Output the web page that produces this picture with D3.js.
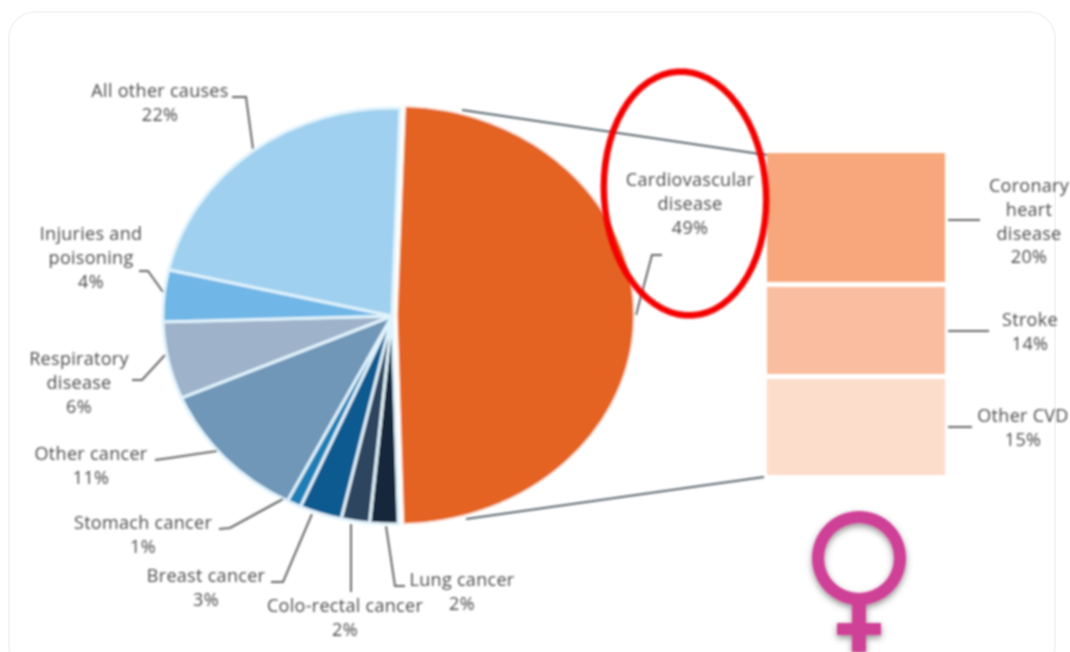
<!DOCTYPE html>
<html>
<head>
<meta charset="utf-8">
<script src="https://cdn.jsdelivr.net/npm/d3@7/dist/d3.min.js"></script>
<style>
html,body{margin:0;padding:0;background:#fff;overflow:hidden}
svg{display:block}
text{font-family:"Open Sans",sans-serif;font-size:18px;letter-spacing:0.3px;fill:#4c4c4c;text-anchor:middle;dominant-baseline:middle}
</style>
</head>
<body>
<svg id="chart" width="1070" height="652"></svg>
<script>
// Pie data: causes of death, share in %
const causes = ["Cardiovascular disease","Lung cancer","Colo-rectal cancer","Breast cancer","Stomach cancer","Other cancer","Respiratory disease","Injuries and poisoning","All other causes"];
const shares = [49,2,2,3,1,11,6,4,22];
const pieColors = ["#e56420","#14263a","#2f4560","#0b5a90","#1b7eb5","#7096b8","#9eb2c9","#6fb6e6","#a0d0ef"];

// Breakdown of cardiovascular disease
const cvdParts = ["Coronary heart disease","Stroke","Other CVD"];
const cvdShares = [20,14,15];
const cvdColors = ["#f8a77c","#fbbda0","#fcdcca"];

// Label text lines
const pieLabels = [
  {lines:["Cardiovascular","disease","49%"],x:690,y:180},
  {lines:["Lung cancer","2%"],x:462,y:580},
  {lines:["Colo-rectal cancer","2%"],x:345,y:606},
  {lines:["Breast cancer","3%"],x:206,y:576},
  {lines:["Stomach cancer","1%"],x:143,y:523},
  {lines:["Other cancer","11%"],x:91,y:454},
  {lines:["Respiratory","disease","6%"],x:79,y:359},
  {lines:["Injuries and","poisoning","4%"],x:91,y:234},
  {lines:["All other causes","22%"],x:160,y:91},
  {lines:["Coronary","heart","disease","20%"],x:1029,y:186},
  {lines:["Stroke","14%"],x:1030,y:320},
  {lines:["Other CVD","15%"],x:1023,y:416}
];
const leaders = [
  [[636,315],[652,255],[662,255]],
  [[386,526],[395,586],[405,586]],
  [[351,524],[351,592]],
  [[312,514],[283,582],[271,582]],
  [[283,499],[230,528],[219,529]],
  [[217,451],[170,458],[155,460]],
  [[165,355],[142,380],[132,380]],
  [[163,292],[148,271],[139,271]],
  [[253,149],[246,97],[232,97]],
  [[948,220],[980,220]],
  [[948,331],[989,331]],
  [[948,427],[972,427]]
];

const svg = d3.select("#chart");
const defs = svg.append("defs");
defs.append("filter").attr("id","soft").append("feGaussianBlur").attr("stdDeviation",0.8);
const shadow = defs.append("filter").attr("id","shadow").attr("x","-30%").attr("y","-30%").attr("width","160%").attr("height","160%");
shadow.append("feDropShadow").attr("dx",0).attr("dy",3).attr("stdDeviation",3).attr("flood-color","#555").attr("flood-opacity",0.65);

// card
svg.append("rect").attr("x",9).attr("y",12).attr("width",1046).attr("height",660).attr("rx",26)
  .attr("fill","#fff").attr("stroke","#f5f5f5").attr("stroke-width",2);

const root = svg.append("g").attr("filter","url(#soft)");

// Pie (elliptical, the orange slice is pulled slightly out of the rest)
const pie = d3.pie().sort(null).value(d=>d).startAngle(2*Math.PI/180).endAngle(362*Math.PI/180);
const arc = d3.arc().innerRadius(0).outerRadius(1);
const geom = i => i===0 ? {cx:397,cy:315,rx:237,ry:209} : {cx:392,cy:316,rx:229,ry:208};
root.append("g").selectAll("path").data(pie(shares)).join("path")
  .attr("transform",(d,i)=>{const g=geom(i);return `translate(${g.cx},${g.cy}) scale(${g.rx},${g.ry})`;})
  .attr("d",arc).attr("fill",(d,i)=>pieColors[i])
  .attr("stroke",(d,i)=>i===0?"#fdeadb":"#e0f3fc")
  .attr("stroke-width",(d,i)=>i===0?1.5:3)
  .attr("vector-effect","non-scaling-stroke");

// Stacked CVD column
const total = d3.sum(cvdShares);
const yS = d3.scaleLinear().domain([0,total]).range([153,475]);
let acc=0;
const stacks = cvdShares.map(v=>{const s={y0:acc,y1:acc+v};acc+=v;return s;});
root.append("g").selectAll("rect").data(stacks).join("rect")
  .attr("x",767).attr("width",178)
  .attr("y",(d,i)=>yS(d.y0)+(i?2.5:0))
  .attr("height",(d,i)=>yS(d.y1)-yS(d.y0)-(i?2.5:0)-(i<2?2.5:0))
  .attr("fill",(d,i)=>cvdColors[i]);

// Connectors between pie and column
root.append("g").attr("stroke","#56646c").attr("stroke-width",2).attr("fill","none")
  .selectAll("path").data([[[462,110],[767,155]],[[466,519],[764,477]]]).join("path")
  .attr("d",d3.line());

// Leaders
root.append("g").attr("stroke","#666").attr("stroke-width",2).attr("fill","none")
  .selectAll("path").data(leaders).join("path").attr("d",d3.line());

// Labels
const lab = root.append("g").selectAll("text").data(pieLabels).join("text")
  .attr("transform",d=>`translate(${d.x},${d.y+1})`);
lab.selectAll("tspan").data(d=>d.lines).join("tspan")
  .attr("x",0).attr("y",(d,i)=>i*23.8).text(d=>d);

// Red highlight ellipse
svg.append("ellipse").attr("cx",685).attr("cy",193.5).attr("rx",81).attr("ry",122)
  .attr("transform","rotate(-3.5 685 193.5)")
  .attr("fill","none").attr("stroke","#f40000").attr("stroke-width",6.5)
  .attr("filter","url(#soft)");

// Female symbol
const sym = root.append("g").attr("filter","url(#shadow)");
const ringPath = d3.path();
ringPath.moveTo(906,558);ringPath.arc(859,558,47,0,2*Math.PI);ringPath.closePath();
ringPath.moveTo(894,558);ringPath.arc(859,558,35,0,2*Math.PI);ringPath.closePath();
sym.append("path").attr("fill","#cf4097").attr("fill-rule","evenodd").attr("d",ringPath.toString());
sym.append("rect").attr("x",852).attr("y",603).attr("width",14).attr("height",49).attr("fill","#cf4097");
sym.append("rect").attr("x",837).attr("y",623).attr("width",44).attr("height",12).attr("fill","#cf4097");
</script>
</body>
</html>
